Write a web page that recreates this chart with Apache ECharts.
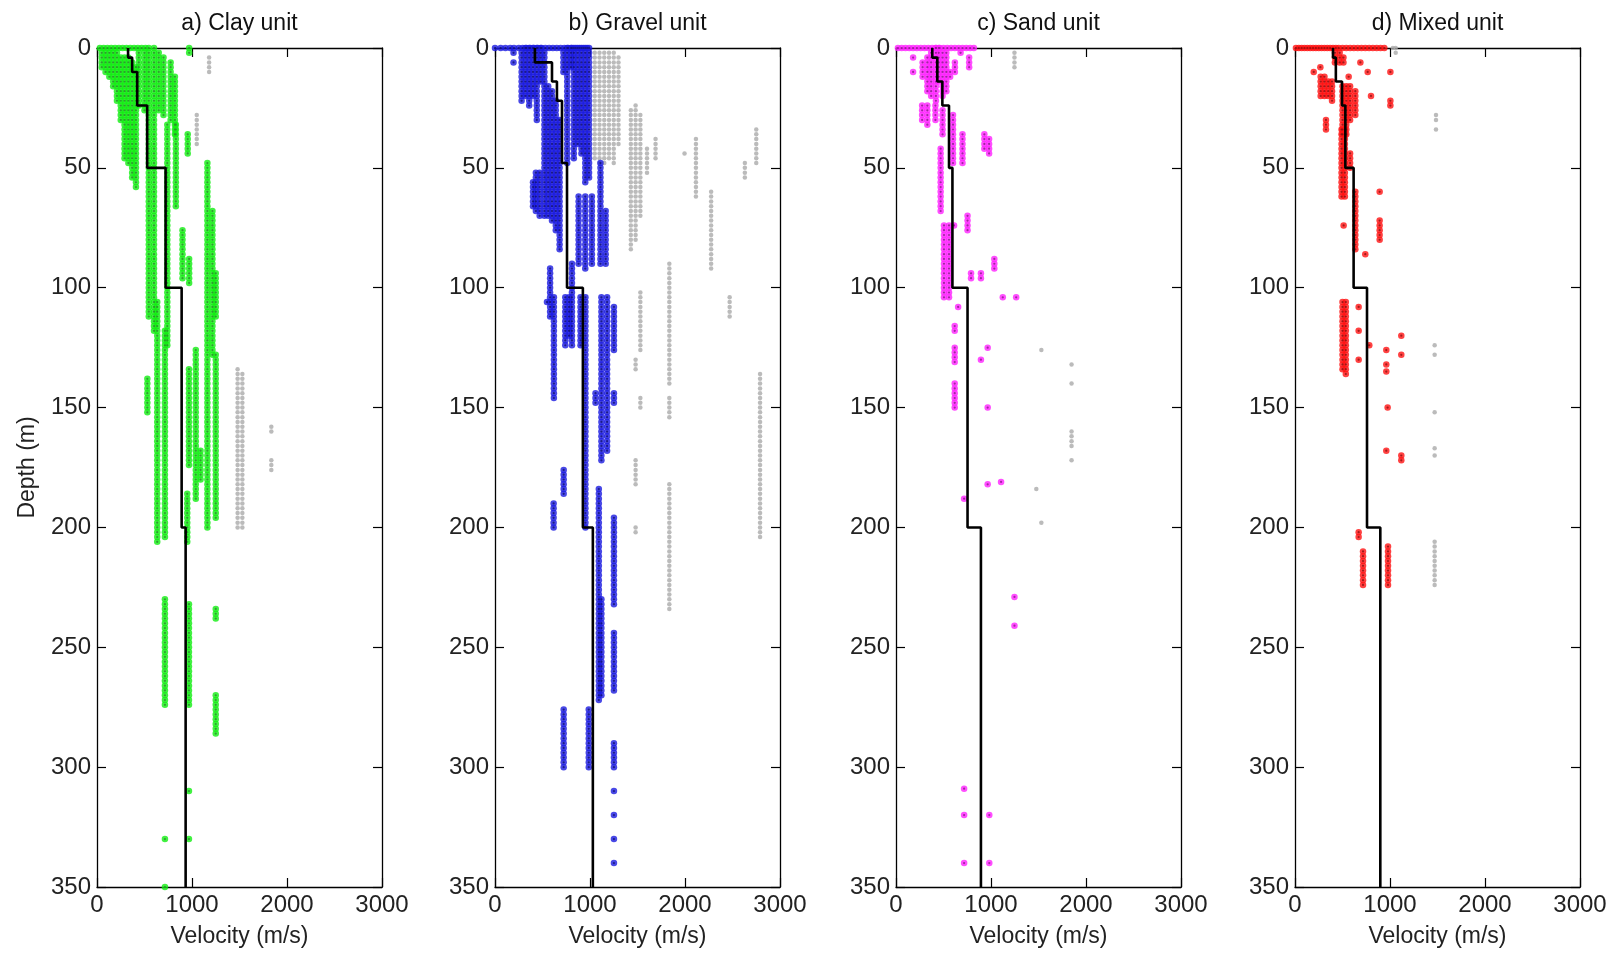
<!DOCTYPE html>
<html><head><meta charset="utf-8">
<script src="https://cdn.jsdelivr.net/npm/echarts@6/dist/echarts.min.js"></script>
<style>html,body{margin:0;padding:0;background:#fff}#c{width:1619px;height:953px}</style>
</head><body><div id="c"></div>
<script>
// ---------------- DATA ----------------
const TITLES = ['a) Clay unit', 'b) Gravel unit', 'c) Sand unit', 'd) Mixed unit'];
const X_TICKS = [0, 1000, 2000, 3000];
const Y_TICKS = [0, 50, 100, 150, 200, 250, 300, 350];
const DEPTH_STEP = 2; // sampling interval (m) of the measured columns
// columns of samples: [velocity, firstDepth, lastDepth]
const CLAY_PTS = [
  [30,0,0],[70,0,0],[110,0,0],[150,0,0],[190,0,0],[230,0,0],[270,0,0],[310,0,0],[350,0,0],[390,0,0],[430,0,0],[470,0,0],[510,0,0],[970,0,2],
  [50,2,8],[90,2,10],[130,2,12],[170,2,16],[210,2,22],[250,4,30],[290,4,46],[330,4,48],[370,6,54],[410,8,58],[440,2,24],
  [500,2,26],[545,0,112],[600,0,118],[650,2,26],[700,4,28],[775,6,30],[820,12,36],[740,32,124],[830,32,66],[955,36,44],[900,76,96],[970,88,98],
  [1162,48,200],[1215,68,128],[1250,94,112],[1250,128,196],
  [530,138,152],[634,106,206],[715,118,204],[968,134,174],[950,186,206],[1040,126,188],[1090,168,180],
  [715,230,274],[968,232,274],[1250,234,238],[1250,270,286],[968,310,310],[968,330,330],[715,330,330],[715,350,350]
];
const CLAY_GRAY = [
  [1180,4,10],[1050,28,40],[1480,134,200],[1530,136,200],[1835,158,160],[1835,172,176]
];
const CLAY_PROFILE_DEPTH = [0,4,10,24,50,100,200,350];
const CLAY_PROFILE_VEL = [327,370,423,528,722,891,933];

const GRAVEL_PTS = [
  [0,0,0],[60,0,0],[110,0,0],[160,0,0],[200,0,0],[250,0,0],[290,0,0],[330,0,0],[370,0,0],[410,0,0],[450,0,0],[490,0,0],[530,0,0],[570,0,0],[610,0,0],[650,0,0],[690,0,0],[730,0,0],[770,0,0],[810,0,0],[850,0,0],[890,0,0],[930,0,0],[970,0,0],
  [195,2,2],[195,6,6],
  [280,2,22],[320,0,20],[360,0,24],[400,0,20],[440,0,30],[480,0,14],[520,2,70],[560,16,70],[600,18,72],[640,22,76],[680,30,84],[720,2,10],[760,0,48],[800,0,8],[830,0,46],[870,0,40],[910,0,44],[950,0,56],[990,0,54],
  [430,52,68],[470,52,70],[400,56,66],
  [1110,48,90],[880,62,90],[950,62,92],[1020,62,90],[1165,68,90],[810,90,124],[580,92,112],[620,104,146],[547,106,106],
  [740,104,124],[780,104,120],[900,104,124],[952,104,200],[1120,104,172],[1180,104,168],[1252,108,126],[1252,144,148],[1058,144,148],
  [723,176,186],[617,190,200],[1093,184,272],[1252,196,232],[1252,244,268],[1120,230,270],[723,276,300],[987,276,300],[1252,290,300],[1252,310,310],[1252,320,320],[1252,330,330],[1252,340,340]
];
const GRAVEL_GRAY = [
  [1050,2,46],[1100,2,48],[1150,2,48],[1200,2,46],[1250,2,48],[1300,4,40],[1430,26,84],[1480,24,80],[1530,28,70],[1600,42,52],[1690,38,46],[1995,44,44],[2115,38,62],[2275,60,92],[2630,48,54],[2750,34,48],
  [1530,102,126],[1835,90,140],[1835,146,154],[1835,182,234],[2470,104,112],[1480,130,134],[1480,172,182],[1480,200,202],[1530,146,150],[2790,136,204]
];
const GRAVEL_PROFILE_DEPTH = [0,6,14,22,48,100,200,350];
const GRAVEL_PROFILE_VEL = [420,600,652,705,758,925,1030];

const SAND_PTS = [
  [20,0,0],[60,0,0],[100,0,0],[140,0,0],[180,0,0],[220,0,0],[260,0,0],[300,0,0],[340,0,0],[380,0,0],[420,0,0],[460,0,0],[500,0,0],[540,0,0],[580,0,0],[620,0,0],[660,0,0],[700,0,0],[740,0,0],[780,0,0],[820,0,0],
  [180,4,4],[180,10,10],[280,6,12],[330,4,18],[370,2,20],[420,0,22],[450,0,14],[490,2,20],[530,2,18],[570,10,12],[620,6,10],[680,2,2],[770,4,8],
  [275,24,30],[330,24,32],[415,24,30],[490,26,36],[600,28,48],[700,36,48],[930,36,42],[980,38,44],[470,42,68],[505,74,104],[558,74,104],[611,74,74],[753,70,76],[790,94,96],[894,94,96],[1035,88,92],[1124,104,104],[1265,104,104],[654,108,108],
  [618,116,118],[618,125,132],[618,140,150],[965,125,125],[965,150,150],[894,130,130],[965,182,182],[1106,181,181],[717,188,188],[1247,229,229],[1247,241,241],[717,309,309],[717,320,320],[717,340,340],[982,320,320],[982,340,340]
];
const SAND_GRAY = [
  [1247,2,8],[1530,126,126],[1848,132,132],[1848,140,140],[1848,160,166],[1848,172,172],[1477,184,184],[1530,198,198]
];
const SAND_PROFILE_DEPTH = [0,4,14,24,50,100,200,350];
const SAND_PROFILE_VEL = [382,435,488,558,594,753,894];

const MIXED_PTS = [
  [10,0,0],[40,0,0],[70,0,0],[100,0,0],[130,0,0],[160,0,0],[190,0,0],[220,0,0],[250,0,0],[280,0,0],[310,0,0],[340,0,0],[370,0,0],[400,0,0],[430,0,0],[460,0,0],[500,0,0],[540,0,0],[580,0,0],[620,0,0],[660,0,0],[700,0,0],[740,0,0],[780,0,0],[820,0,0],[860,0,0],[900,0,0],[940,0,0],
  [420,2,6],[470,2,6],[510,4,6],[197,10,10],[267,8,8],[270,12,20],[310,12,20],[350,14,20],[390,14,22],[565,12,12],[500,16,36],[540,16,36],[580,16,30],[635,18,28],[688,6,6],[765,10,10],[1004,10,10],[800,20,20],[1004,22,24],[326,30,34],
  [490,34,62],[525,34,62],[580,44,50],[635,60,84],[512,74,74],[891,60,60],[891,72,80],[740,86,86],
  [500,106,134],[535,106,136],[670,108,108],[670,118,118],[670,130,130],[782,124,124],[961,126,126],[961,132,132],[961,135,135],[1119,120,120],[1119,128,128],[975,150,150],[961,168,168],[1119,170,172],[670,202,204],[716,210,224],[979,208,224]
];
const MIXED_GRAY = [
  [1030,0,0],[1060,0,2],[1484,28,28],[1484,30,30],[1484,34,34],[1470,124,124],[1470,128,128],[1470,152,152],[1470,167,167],[1470,170,170],[1470,206,224]
];
const MIXED_PROFILE_DEPTH = [0,4,14,24,50,100,200,350];
const MIXED_PROFILE_VEL = [400,430,495,530,617,758,898];

const UNIT_COLORS = ['#11ee11', '#1a1ae0', '#ff22ff', '#ff1111'];
const UNIT_CENTERS = ['#2a8a2a', '#101070', '#8a1a8a', '#8a1010'];
// ---------------------------------------

function expand(runs) {
  const out = [];
  for (const [v, d0, d1] of runs) {
    for (let d = d0; d <= d1 + 1e-9; d += DEPTH_STEP) out.push([v, d]);
  }
  return out;
}
function stepLine(depths, vels) {
  const pts = [];
  for (let i = 0; i < vels.length; i++) {
    pts.push([vels[i], depths[i]]);
    pts.push([vels[i], depths[i + 1]]);
  }
  return pts;
}

const PANELS = [
  {pts: CLAY_PTS, gray: CLAY_GRAY, pd: CLAY_PROFILE_DEPTH, pv: CLAY_PROFILE_VEL},
  {pts: GRAVEL_PTS, gray: GRAVEL_GRAY, pd: GRAVEL_PROFILE_DEPTH, pv: GRAVEL_PROFILE_VEL},
  {pts: SAND_PTS, gray: SAND_GRAY, pd: SAND_PROFILE_DEPTH, pv: SAND_PROFILE_VEL},
  {pts: MIXED_PTS, gray: MIXED_GRAY, pd: MIXED_PROFILE_DEPTH, pv: MIXED_PROFILE_VEL}
];
const LEFTS = [97, 495, 896, 1295];
const GW = 285, GT = 48, GH = 839;
const FONT = 'Liberation Sans, Arial, sans-serif';

const grids = [], xAxes = [], yAxes = [], series = [], graphics = [];
PANELS.forEach((p, i) => {
  grids.push({left: LEFTS[i], top: GT, width: GW, height: GH, containLabel: false});
  const common = {
    type: 'value', gridIndex: i, splitLine: {show: false},
    axisLine: {show: true, onZero: false, lineStyle: {color: '#000', width: 1.3}},
    axisTick: {show: true, inside: true, length: 9, lineStyle: {color: '#000', width: 1.2}}
  };
  const lbl = {fontSize: 24, color: '#222', margin: 6, fontFamily: FONT, formatter: v => String(v)};
  xAxes.push(Object.assign({}, common, {
    position: 'bottom', min: X_TICKS[0], max: X_TICKS[X_TICKS.length - 1], interval: X_TICKS[1] - X_TICKS[0],
    axisLabel: lbl,
    name: 'Velocity (m/s)', nameLocation: 'middle', nameGap: 38,
    nameTextStyle: {fontSize: 23, color: '#222', fontFamily: FONT}
  }));
  xAxes.push(Object.assign({}, common, {
    position: 'top', min: X_TICKS[0], max: X_TICKS[X_TICKS.length - 1], interval: X_TICKS[1] - X_TICKS[0],
    axisLabel: {show: false}
  }));
  const yl = Object.assign({}, common, {
    position: 'left', inverse: true, min: Y_TICKS[0], max: Y_TICKS[Y_TICKS.length - 1], interval: Y_TICKS[1] - Y_TICKS[0],
    axisLabel: lbl
  });
  if (i === 0) {
    yl.name = 'Depth (m)'; yl.nameLocation = 'middle'; yl.nameGap = 58; yl.nameRotate = 90;
    yl.nameTextStyle = {fontSize: 23, color: '#222', fontFamily: FONT};
  }
  yAxes.push(yl);
  yAxes.push(Object.assign({}, common, {
    position: 'right', inverse: true, min: Y_TICKS[0], max: Y_TICKS[Y_TICKS.length - 1], interval: Y_TICKS[1] - Y_TICKS[0],
    axisLabel: {show: false}
  }));
  const grayData = expand(p.gray), ptsData = expand(p.pts);
  series.push({
    type: 'scatter', xAxisIndex: 2 * i, yAxisIndex: 2 * i, data: grayData,
    symbol: 'circle', symbolSize: 4.5, itemStyle: {color: '#aaaaaa'}, silent: true, z: 2
  });
  series.push({
    type: 'scatter', xAxisIndex: 2 * i, yAxisIndex: 2 * i, data: ptsData,
    symbol: 'circle', symbolSize: 6.5,
    itemStyle: {color: UNIT_COLORS[i]},
    silent: true, z: 3
  });
  series.push({
    type: 'scatter', xAxisIndex: 2 * i, yAxisIndex: 2 * i, data: ptsData,
    symbol: 'circle', symbolSize: 2.2,
    itemStyle: {color: UNIT_CENTERS[i]},
    silent: true, z: 4
  });
  series.push({
    type: 'line', xAxisIndex: 2 * i, yAxisIndex: 2 * i, data: stepLine(p.pd, p.pv),
    showSymbol: false, symbol: 'none', lineStyle: {color: '#000', width: 2.6}, silent: true, z: 5
  });
  graphics.push({
    type: 'text', x: LEFTS[i] + GW / 2, y: 24,
    style: {text: TITLES[i], fontSize: 23, fontFamily: FONT, fill: '#111', textAlign: 'center', textVerticalAlign: 'middle'}
  });
});

const chart = echarts.init(document.getElementById('c'), null, {renderer: 'canvas'});
chart.setOption({
  animation: false, backgroundColor: '#fff',
  grid: grids, xAxis: xAxes, yAxis: yAxes, series: series, graphic: graphics
});
</script>
</body></html>
